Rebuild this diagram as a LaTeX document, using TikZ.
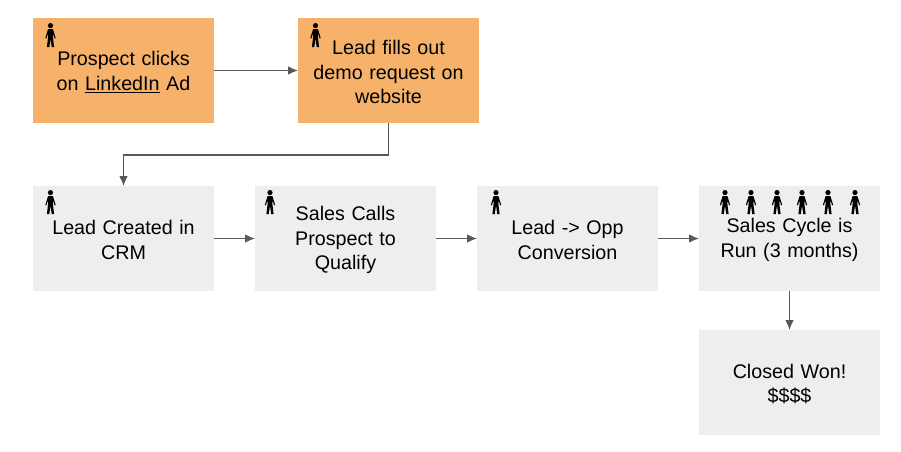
\documentclass[tikz,border=0pt]{standalone}
\usepackage{fontspec}
\setmainfont{Liberation Sans}
\usetikzlibrary{calc, positioning, arrows.meta}
\definecolor{boxorange}{HTML}{F6B26B}
\definecolor{boxgray}{HTML}{EEEEEE}
\definecolor{linegray}{HTML}{595959}
\begin{document}
\begin{tikzpicture}[
x=1pt, y=-1pt,
box/.style = {% common box look
    minimum width=181pt, minimum height=105pt, inner sep=0pt, outer sep=0pt,
    align=center, text width=175pt, font=\fontsize{19.7}{24.6}\selectfont,
    execute at begin node={\rule{0pt}{17.5pt}},
            },
orangebox/.style = {box, fill=boxorange},
graybox/.style = {box, fill=boxgray},
conn/.style = {draw=linegray, line width=1.1pt, -{Latex[length=10pt,width=8.5pt]}},
person/.pic = {% origin is the top of the head
    \fill[black] (0,2.6) circle (2.6);
    \fill[black] (-2.4,6) -- (2.4,6) -- (5.2,15) -- (4,15.4) -- (2.6,10) -- (2.4,14)
        -- (3.6,24) -- (1.2,24) -- (0,15.5) -- (-1.2,24) -- (-3.6,24) -- (-2.4,14)
        -- (-2.6,10) -- (-4,15.4) -- (-5.2,15) -- cycle;
            },
]
\useasboundingbox (0,0) rectangle (901,451);
% top row
\node[orangebox] (click) at (123.5,70.5) {Prospect clicks\\on \underline{LinkedIn} Ad};
\node[orangebox,right=84pt of click] (demo) {Lead fills out\\demo request on\\website};
% middle row
\node[graybox] (crm) at (123.5,238.5) {Lead Created in\\CRM};
\node[graybox,right=41pt of crm] (calls) {Sales Calls\\Prospect to\\Qualify};
\node[graybox,right=41pt of calls] (conv) {Lead -> Opp\\Conversion};
\node[graybox,right=41pt of conv] (cycle) {Sales Cycle is\\Run (3 months)};
% bottom
\node[graybox] (won) at (789.5,382.5) {Closed Won!\\\$\$\$\$};
% connectors
\draw[conn] (click) -- (demo);
\draw[conn] (demo.south) -- ++(0,32) -| (crm.north);
\draw[conn] (crm) -- (calls);
\draw[conn] (calls) -- (conv);
\draw[conn] (conv) -- (cycle);
\draw[conn] (cycle) -- (won);
% people
\pic at (50.5,23) {person};
\pic at (315.5,23) {person};
\pic at (50.5,190) {person};
\pic at (270,190) {person};
\pic at (496,190) {person};
\foreach \x in {725,751,777,802,828,855}{\pic at (\x,190) {person};}
\end{tikzpicture}
\end{document}
